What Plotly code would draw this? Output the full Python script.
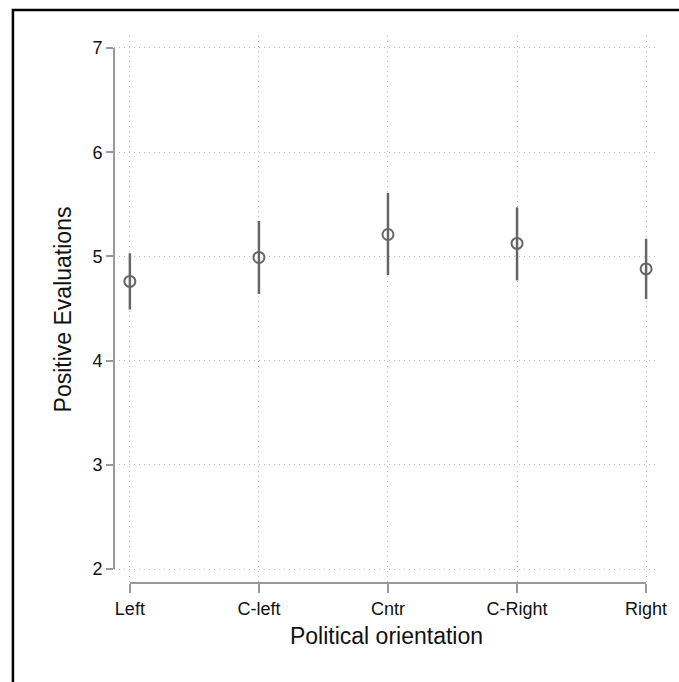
import plotly.graph_objects as go

categories = ["Left", "C-left", "Cntr", "C-Right", "Right"]
means = [4.76, 4.99, 5.21, 5.125, 4.88]
ci_low = [4.49, 4.64, 4.82, 4.77, 4.59]
ci_high = [5.03, 5.34, 5.61, 5.47, 5.17]
y_ticks = [2, 3, 4, 5, 6, 7]

W, H = 679, 682
ML, MR, MT, MB = 114, 15, 36, 99
PW = W - ML - MR
PH = H - MT - MB

xs = list(range(len(categories)))
err_plus = [h - m for h, m in zip(ci_high, means)]
err_minus = [m - l for m, l in zip(means, ci_low)]

gray = "#666666"
fig = go.Figure()
fig.add_trace(go.Scatter(
    x=xs, y=means, mode="markers",
    marker=dict(symbol="circle-open", size=11, color=gray, line=dict(width=2, color=gray)),
    error_y=dict(type="data", symmetric=False, array=err_plus, arrayminus=err_minus,
                 width=0, thickness=2.5, color=gray),
    showlegend=False, cliponaxis=False,
))

font = "Liberation Sans, Arial, sans-serif"
grid_dash = "1px,4px"
fig.update_layout(
    width=W, height=H,
    margin=dict(l=ML, r=MR, t=MT, b=MB),
    paper_bgcolor="white", plot_bgcolor="white",
    font=dict(family=font, color="#111111"),
    xaxis=dict(
        range=[-0.123, 4.1], tickvals=xs, ticktext=categories,
        ticks="outside", ticklen=9, tickwidth=1.5, tickcolor="#999999",
        showgrid=True, gridcolor="#bbbbbb", griddash=grid_dash, gridwidth=1,
        zeroline=False, showline=False,
        tickfont=dict(size=18, color="#111111"),
        title=dict(text="Political orientation", font=dict(size=23, color="#111111"), standoff=10),
    ),
    yaxis=dict(
        range=[1.866, 7.115], tickvals=y_ticks,
        ticks="outside", ticklen=7, tickwidth=1.5, tickcolor="#999999",
        showgrid=True, gridcolor="#bbbbbb", griddash=grid_dash, gridwidth=1,
        zeroline=False, showline=False,
        tickfont=dict(size=18, color="#111111"),
        title=dict(text="Positive Evaluations", font=dict(size=23, color="#111111"), standoff=14),
    ),
)

# Stata-style axis lines spanning only the tick range
fig.add_shape(type="line", xref="x domain", yref="y", x0=0, x1=0,
              y0=min(y_ticks), y1=max(y_ticks), line=dict(color="#999999", width=2))
fig.add_shape(type="line", xref="x", yref="y domain", x0=xs[0], x1=xs[-1],
              y0=0, y1=0, line=dict(color="#999999", width=2))

# outer black frame (partially outside image on right/bottom)
fig.add_shape(type="rect", xref="paper", yref="paper",
              x0=(12 - ML) / PW, x1=(W + 20 - ML) / PW,
              y0=-(H + 20 - MT - PH) / PH, y1=1 + (MT - 10) / PH,
              line=dict(color="black", width=2.5), fillcolor="rgba(0,0,0,0)", layer="above")

fig.write_html("out.html")
